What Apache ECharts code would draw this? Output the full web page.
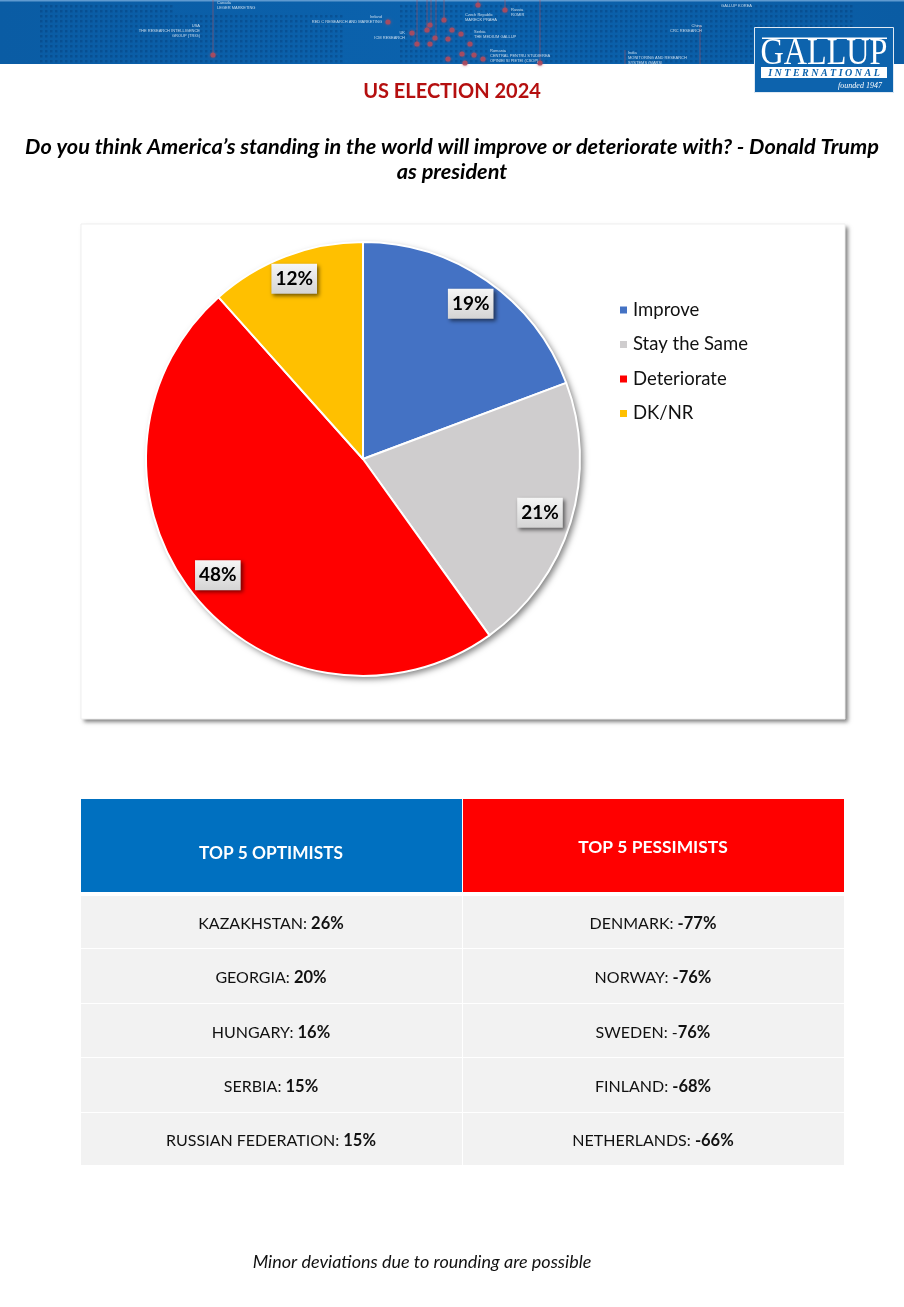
<!DOCTYPE html>
<html>
<head>
<meta charset="utf-8">
<title>US Election 2024</title>
<style>
  html, body { margin: 0; padding: 0; background: #fff; }
  #main { width: 904px; height: 1307px; }
</style>
<script src="https://cdn.jsdelivr.net/npm/echarts@6/dist/echarts.min.js"></script>
</head>
<body>
<div id="main"></div>
<script>
const categories = ['Improve', 'Stay the Same', 'Deteriorate', 'DK/NR'];
const shares = [19.3, 20.8, 48.3, 11.6];
const sliceColors = ['#4472c4', '#cfcdce', '#ff0000', '#ffc000'];

const optimistNames = ['KAZAKHSTAN', 'GEORGIA', 'HUNGARY', 'SERBIA', 'RUSSIAN FEDERATION'];
const optimistValues = ['26%', '20%', '16%', '15%', '15%'];
const pessimistNames = ['DENMARK', 'NORWAY', 'SWEDEN', 'FINLAND', 'NETHERLANDS'];
const pessimistValues = ['-77%', '-76%', '-76%', '-68%', '-66%'];

const FONT = 'Lato, "Open Sans", sans-serif';
const chart = echarts.init(document.getElementById('main'), null, { renderer: 'canvas', width: 904, height: 1307 });

// dotted map texture for the banner
function dotPattern() {
  const c = document.createElement('canvas');
  c.width = 5; c.height = 5;
  const g = c.getContext('2d');
  g.fillStyle = 'rgba(0,45,100,0.3)';
  g.fillRect(0, 0, 2.5, 2.5);
  return c;
}

function txt(x, y, text, font, fill, extra, props) {
  return Object.assign({
    type: 'text',
    z: 3,
    x: x,
    y: y,
    style: Object.assign({ text: text, font: font, fill: fill, align: 'center', verticalAlign: 'middle' }, extra || {})
  }, props || {});
}

function box(x, y, w, h, fill, extra) {
  return Object.assign({ type: 'rect', z: 1, shape: { x: x, y: y, width: w, height: h }, style: { fill: fill } }, extra || {});
}

const banner = [
  box(0, 0, 904, 64, {
    type: 'linear', x: 0, y: 0, x2: 1, y2: 0,
    colorStops: [{ offset: 0, color: '#0a5ca4' }, { offset: 0.5, color: '#0b62ad' }, { offset: 1, color: '#0a5ca4' }]
  }),
  box(0, 0, 904, 1.5, '#5f9ad0')
];
[[40, 5, 135, 59], [175, 15, 170, 49], [400, 3, 355, 61], [755, 3, 100, 24]].forEach(function (r) {
  banner.push(box(r[0], r[1], r[2], r[3], { image: dotPattern(), repeat: 'repeat' }));
});
[[213, 0, 55], [417, 0, 44], [427, 0, 30], [431, 0, 25], [436, 0, 38], [444, 0, 20], [478, 0, 5], [505, 0, 10], [540, 0, 64], [700, 25, 64], [625, 50, 64]].forEach(function (l) {
  banner.push({ type: 'line', z: 1, shape: { x1: l[0], y1: l[1], x2: l[0], y2: l[2] }, style: { stroke: 'rgba(190,80,90,0.5)', lineWidth: 1 } });
});
[[213, 55], [388, 22], [412, 33], [417, 44], [478, 5], [505, 10], [444, 20], [430, 25], [427, 30], [452, 30], [461, 34], [435, 38], [448, 39], [430, 44], [470, 44], [462, 54], [474, 55], [448, 59], [483, 59], [465, 63], [540, 63]].forEach(function (p) {
  banner.push({ type: 'circle', z: 1, shape: { cx: p[0], cy: p[1], r: 2.6 }, style: { fill: 'rgba(178,74,92,0.85)', shadowBlur: 3, shadowColor: 'rgba(178,74,92,0.8)' } });
});
// member institutes printed on the map
[
  ['USA', 200, 26, 'right'], ['THE RESEARCH INTELLIGENCE', 200, 31, 'right'], ['GROUP (TRIG)', 200, 36, 'right'],
  ['Canada', 217, 3, 'left'], ['LEGER MARKETING', 217, 8, 'left'],
  ['Ireland', 382, 17, 'right'], ['RED C RESEARCH AND MARKETING', 382, 22, 'right'],
  ['UK', 405, 33, 'right'], ['ICM RESEARCH', 405, 38, 'right'],
  ['Czech Republic', 465, 15, 'left'], ['MARECK PRAHA', 465, 20, 'left'],
  ['Russia', 511, 10, 'left'], ['ROMIR', 511, 15, 'left'],
  ['Serbia', 474, 32, 'left'], ['THE MEDIUM GALLUP', 474, 37, 'left'],
  ['Romania', 490, 51, 'left'], ['CENTRAL PENTRU STUDIEREA', 490, 56, 'left'], ['OPINIEI SI PIETEI (CSOP)', 490, 61, 'left'],
  ['India', 628, 53, 'left'], ['MONITORING AND RESEARCH', 628, 58, 'left'], ['SYSTEMS (MARS)', 628, 63, 'left'],
  ['China', 702, 26, 'right'], ['CRC RESEARCH', 702, 31, 'right'],
  ['GALLUP KOREA', 752, 6, 'right']
].forEach(function (t) {
  banner.push(txt(t[1], t[2], t[0], '4px "Liberation Sans"', 'rgba(228,238,248,0.85)', { align: t[3] }, { z: 1 }));
});

// logo
const logo = [
  box(754.5, 27.5, 139, 65, '#0d63ad', { z: 2, style: { fill: '#0d63ad', stroke: '#dfe9f3', lineWidth: 1 } }),
  box(762, 37.5, 125, 1.5, '#ffffff', { z: 3 }),
  txt(824, 54, 'GALLUP', '37px "Liberation Serif"', '#ffffff', null, { scaleX: 0.87 }),
  box(761, 67, 126, 11, '#ffffff', { z: 3 }),
  txt(824, 73, 'I N T E R N A T I O N A L', 'italic bold 10px "Liberation Serif"', '#0d63ad'),
  txt(860, 86, 'founded 1947', 'italic 8px "Liberation Serif"', '#ffffff')
];

// table drawn from the country arrays
const COLS = [{ x: 81, w: 381 }, { x: 463, w: 381 }];
const ROWS = [[896, 52], [949, 54], [1004, 53], [1058, 54], [1113, 52]];

function rowText(cx, cy, name, value, splitMinus) {
  const plain = splitMinus ? name + ': -' : name + ': ';
  const bold = splitMinus ? value.replace('-', '') : value;
  return {
    type: 'text',
    z: 3,
    x: cx,
    y: cy,
    style: {
      text: '{a|' + plain + '}{b|' + bold + '}',
      align: 'center',
      verticalAlign: 'middle',
      rich: {
        a: { font: '16px ' + FONT, fill: '#111111' },
        b: { font: 'bold 16.5px ' + FONT, fill: '#111111' }
      }
    }
  };
}

const table = [
  box(COLS[0].x, 799, COLS[0].w, 93, '#0070c0'),
  box(COLS[1].x, 799, COLS[1].w, 93, '#ff0000'),
  txt(271, 853, 'TOP 5 OPTIMISTS', 'bold 17.3px ' + FONT, '#ffffff'),
  txt(653, 847, 'TOP 5 PESSIMISTS', 'bold 17.4px ' + FONT, '#ffffff')
];
ROWS.forEach(function (r, i) {
  table.push(box(COLS[0].x, r[0], COLS[0].w, r[1], '#f2f2f2'));
  table.push(box(COLS[1].x, r[0], COLS[1].w, r[1], '#f2f2f2'));
  table.push(rowText(271, r[0] + r[1] / 2 + 2, optimistNames[i], optimistValues[i], false));
  table.push(rowText(653, r[0] + r[1] / 2 + 2, pessimistNames[i], pessimistValues[i], pessimistNames[i] === 'SWEDEN'));
});

const PIE_CX = 363, PIE_CY = 459, PIE_R = 217;
const LABEL_R = [189, 185, 186, 193];

// mid angle of a slice, clockwise from the top
function midAngle(index) {
  const total = shares.reduce(function (a, b) { return a + b; }, 0);
  let before = 0;
  for (let i = 0; i < index; i++) before += shares[i];
  return (before + shares[index] / 2) / total * Math.PI * 2;
}

const option = {
  animation: false,
  backgroundColor: '#ffffff',
  textStyle: { fontFamily: FONT },
  legend: {
    data: categories,
    orient: 'vertical',
    left: 618,
    top: 299,
    padding: 0,
    icon: 'rect',
    itemWidth: 9,
    itemHeight: 9,
    itemGap: 12.5,
    selectedMode: false,
    textStyle: { fontSize: 18.5, color: '#111111', fontFamily: FONT, lineHeight: 22 }
  },
  graphic: {
    elements: [
      // shadow and border are separate, a stroke would throw its shadow inside the fill
      box(81, 224, 764, 495, '#ffffff', {
        z: 0,
        style: { fill: '#ffffff', shadowBlur: 4, shadowOffsetX: 3, shadowOffsetY: 3, shadowColor: 'rgba(0,0,0,0.5)' }
      }),
      box(81, 224, 764, 495, 'none', {
        z: 0,
        style: { fill: 'none', stroke: '#efefef', lineWidth: 1 }
      }),
      {
        type: 'circle',
        z: 1,
        shape: { cx: PIE_CX, cy: PIE_CY, r: PIE_R },
        style: { fill: '#ffffff', shadowBlur: 6, shadowOffsetX: 3, shadowOffsetY: 3, shadowColor: 'rgba(0,0,0,0.5)' }
      }
    ].concat(banner, logo, table, [
      txt(452, 92, 'US ELECTION 2024', 'bold 20px ' + FONT, '#b50f0f'),
      txt(452, 147, 'Do you think America\u2019s standing in the world will improve or deteriorate with? - Donald Trump', 'italic bold 21.7px ' + FONT, '#000000'),
      txt(452, 172, 'as president', 'italic bold 21.7px ' + FONT, '#000000'),
      txt(422, 1262, 'Minor deviations due to rounding are possible', 'italic 18px ' + FONT, '#111111')
    ])
  },
  series: [
    {
      type: 'pie',
      center: [PIE_CX, PIE_CY],
      radius: [0, PIE_R],
      startAngle: 90,
      clockwise: true,
      silent: true,
      data: categories.map(function (name, i) {
        return { name: name, value: shares[i], itemStyle: { color: sliceColors[i] } };
      }),
      itemStyle: { borderColor: '#ffffff', borderWidth: 2 },
      labelLine: { show: false },
      label: {
        show: true,
        position: 'inside',
        formatter: function (p) { return Math.round(p.value) + '%'; },
        fontFamily: FONT,
        fontWeight: 'bold',
        fontSize: 19,
        color: '#000000',
        padding: [6, 4, 5, 4],
        backgroundColor: {
          type: 'linear', x: 0, y: 0, x2: 0, y2: 1,
          colorStops: [{ offset: 0, color: '#f6f6f6' }, { offset: 1, color: '#d4d4d4' }]
        },
        shadowBlur: 4,
        shadowOffsetX: 2,
        shadowOffsetY: 2,
        shadowColor: 'rgba(0,0,0,0.55)'
      },
      labelLayout: function (p) {
        // inside labels sit out near the rim, along the slice's mid angle
        const a = midAngle(p.dataIndex);
        const r = LABEL_R[p.dataIndex];
        return { x: PIE_CX + Math.sin(a) * r, y: PIE_CY - Math.cos(a) * r };
      }
    }
  ]
};

chart.setOption(option);
</script>
</body>
</html>
